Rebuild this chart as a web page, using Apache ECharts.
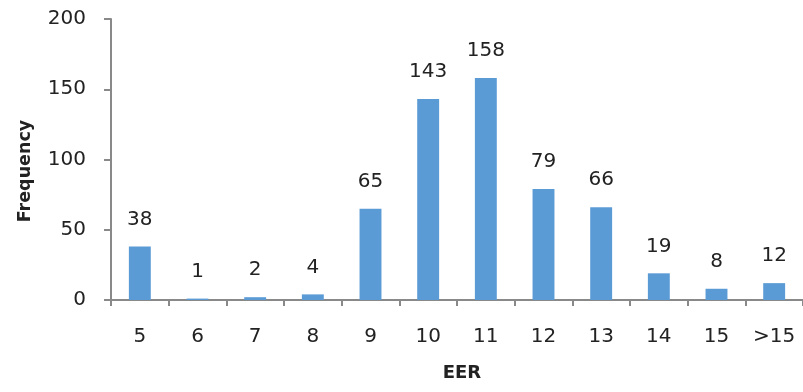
<!DOCTYPE html>
<html>
<head>
<meta charset="utf-8">
<script src="https://cdn.jsdelivr.net/npm/echarts@6/dist/echarts.min.js"></script>
<style>
  html, body { margin: 0; padding: 0; background: #fff; overflow: hidden; }
  #chart { width: 803px; height: 392px; }
</style>
</head>
<body>
<div id="chart"></div>
<script>
// EER histogram: bins and counts
const categories = ['5', '6', '7', '8', '9', '10', '11', '12', '13', '14', '15', '>15'];
const frequency = [38, 1, 2, 4, 65, 143, 158, 79, 66, 19, 8, 12];
const yTicks = { min: 0, max: 200, interval: 50 };
const xTitle = 'EER';
const yTitle = 'Frequency';

const font = 'DejaVu Sans, Verdana, sans-serif';
const axisGray = '#898989';
const textColor = '#222';

const chart = echarts.init(document.getElementById('chart'), null, { renderer: 'canvas' });
chart.setOption({
  animation: false,
  // the plot area runs slightly past the right edge of the canvas
  grid: { left: 111, right: -4, top: 19, bottom: 92, containLabel: false },
  graphic: [
    {
      type: 'text',
      x: 462, y: 373,
      style: {
        text: xTitle, font: 'bold 18px ' + font, fill: textColor,
        align: 'center', verticalAlign: 'middle'
      }
    },
    {
      type: 'text',
      x: 25, y: 171,
      rotation: Math.PI / 2,
      style: {
        text: yTitle, font: 'bold 17.5px ' + font, fill: textColor,
        align: 'center', verticalAlign: 'middle'
      }
    }
  ],
  xAxis: {
    type: 'category',
    data: categories,
    axisLine: { lineStyle: { color: axisGray, width: 2 } },
    axisTick: { show: true, alignWithLabel: false, length: 6, lineStyle: { color: axisGray, width: 2 } },
    axisLabel: { fontFamily: font, fontSize: 20, color: textColor, margin: 27 },
    splitLine: { show: false }
  },
  yAxis: {
    type: 'value',
    min: yTicks.min,
    max: yTicks.max,
    interval: yTicks.interval,
    axisLine: { show: true, lineStyle: { color: axisGray, width: 2 } },
    axisTick: { show: true, length: 7, lineStyle: { color: axisGray, width: 2 } },
    axisLabel: { fontFamily: font, fontSize: 20, color: textColor, margin: 25 },
    splitLine: { show: false }
  },
  series: [{
    type: 'bar',
    data: frequency,
    barWidth: '38%',
    itemStyle: { color: '#5B9BD5' },
    label: {
      show: true,
      position: 'top',
      distance: 17,
      fontFamily: font,
      fontSize: 20,
      color: textColor
    }
  }]
});
</script>
</body>
</html>
